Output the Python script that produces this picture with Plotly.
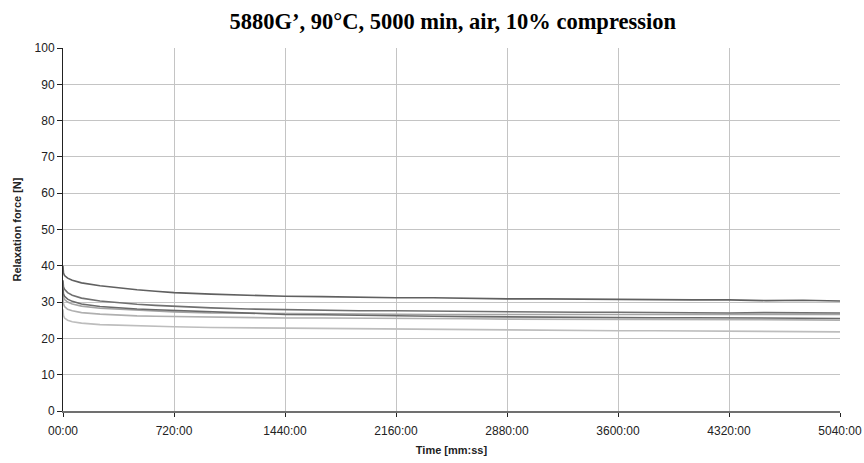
import plotly.graph_objects as go

# time in minutes
time_min = [0, 3, 10, 30, 60, 120, 240, 360, 480, 600, 720, 960, 1200, 1440, 1680, 1920,
            2160, 2400, 2640, 2880, 3120, 3360, 3600, 3840, 4080, 4320, 4560, 4800, 5040]

sample_1 = [40.0, 38.0, 37.3, 36.6, 36.0, 35.3, 34.5, 33.9, 33.4, 33.0, 32.6, 32.2, 31.8, 31.6, 31.5,
            31.3, 31.2, 31.2, 31.0, 30.9, 30.9, 30.8, 30.7, 30.8, 30.6, 30.6, 30.4, 30.5, 30.3]
sample_2 = [36.0, 34.2, 33.5, 32.6, 31.9, 31.1, 30.3, 29.8, 29.4, 29.1, 28.8, 28.4, 28.1, 27.9, 27.8,
            27.6, 27.6, 27.5, 27.4, 27.3, 27.3, 27.2, 27.2, 27.1, 27.1, 27.0, 27.1, 27.0, 27.0]
sample_3 = [34.0, 32.3, 31.6, 30.8, 30.2, 29.5, 28.8, 28.4, 28.1, 27.9, 27.7, 27.2, 26.9, 26.6, 26.5,
            26.3, 26.2, 26.1, 26.0, 25.9, 25.9, 25.8, 25.8, 25.7, 25.7, 25.6, 25.6, 25.5, 25.5]
sample_4 = [33.0, 31.3, 30.7, 30.0, 29.5, 28.9, 28.3, 28.0, 27.7, 27.5, 27.3, 27.0, 26.9, 26.8, 26.8,
            26.7, 26.7, 26.6, 26.6, 26.6, 26.6, 26.5, 26.5, 26.6, 26.5, 26.5, 26.6, 26.5, 26.6]
sample_5 = [31.0, 29.5, 28.8, 28.0, 27.6, 27.1, 26.7, 26.4, 26.2, 26.1, 26.0, 25.8, 25.7, 25.6, 25.6,
            25.5, 25.4, 25.4, 25.4, 25.3, 25.3, 25.3, 25.2, 25.2, 25.2, 25.1, 25.1, 25.1, 25.0]
sample_6 = [28.0, 26.3, 25.6, 25.0, 24.6, 24.2, 23.8, 23.6, 23.4, 23.3, 23.2, 23.0, 22.9, 22.8, 22.7,
            22.6, 22.5, 22.4, 22.4, 22.3, 22.2, 22.2, 22.1, 22.1, 22.0, 22.0, 21.9, 21.9, 21.8]

tick_vals = [0, 720, 1440, 2160, 2880, 3600, 4320, 5040]
tick_text = ['00:00', '720:00', '1440:00', '2160:00', '2880:00', '3600:00', '4320:00', '5040:00']

series = [
    (sample_6, '#bdbdbd'),
    (sample_5, '#b0b0b0'),
    (sample_4, '#a4a4a4'),
    (sample_3, '#6a6a6a'),
    (sample_2, '#707070'),
    (sample_1, '#606060'),
]

fig = go.Figure()
for values, color in series:
    fig.add_trace(go.Scatter(x=time_min, y=values, mode='lines',
                             line=dict(color=color, width=1.6), showlegend=False))

fig.update_layout(
    width=864, height=463,
    margin=dict(l=63, r=24, t=48, b=52),
    paper_bgcolor='white', plot_bgcolor='white',
    title=dict(text="<b>5880G\u2019, 90\u00b0C, 5000 min, air, 10% compression</b>",
               font=dict(family='Liberation Serif', size=22.5, color='black'),
               x=0.524, xanchor='center', y=0.955, yanchor='middle'),
    font=dict(family='Liberation Sans', size=12, color='#222222'),
)

fig.update_xaxes(
    range=[0, 5040], tickvals=tick_vals, ticktext=tick_text,
    showgrid=True, gridcolor='#c4c4c4', gridwidth=1,
    showline=True, linecolor='#707070', linewidth=2, mirror=False,
    ticks='outside', ticklen=4, tickcolor='#222222', ticklabelstandoff=4,
    title=dict(text='<b>Time [mm:ss]</b>', font=dict(size=11), standoff=9),
    zeroline=False, automargin=False,
)
fig.update_yaxes(
    range=[0, 100], dtick=10,
    showgrid=True, gridcolor='#c4c4c4', gridwidth=1,
    showline=True, linecolor='#222222', linewidth=1,
    ticks='outside', ticklen=5, tickcolor='#222222',
    title=dict(text='<b>Relaxation force [N]</b>', font=dict(size=11), standoff=10),
    zeroline=False, automargin=False,
)

fig.write_html("out.html", config={'displayModeBar': False},
               post_script="document.body.style.margin='0';")
